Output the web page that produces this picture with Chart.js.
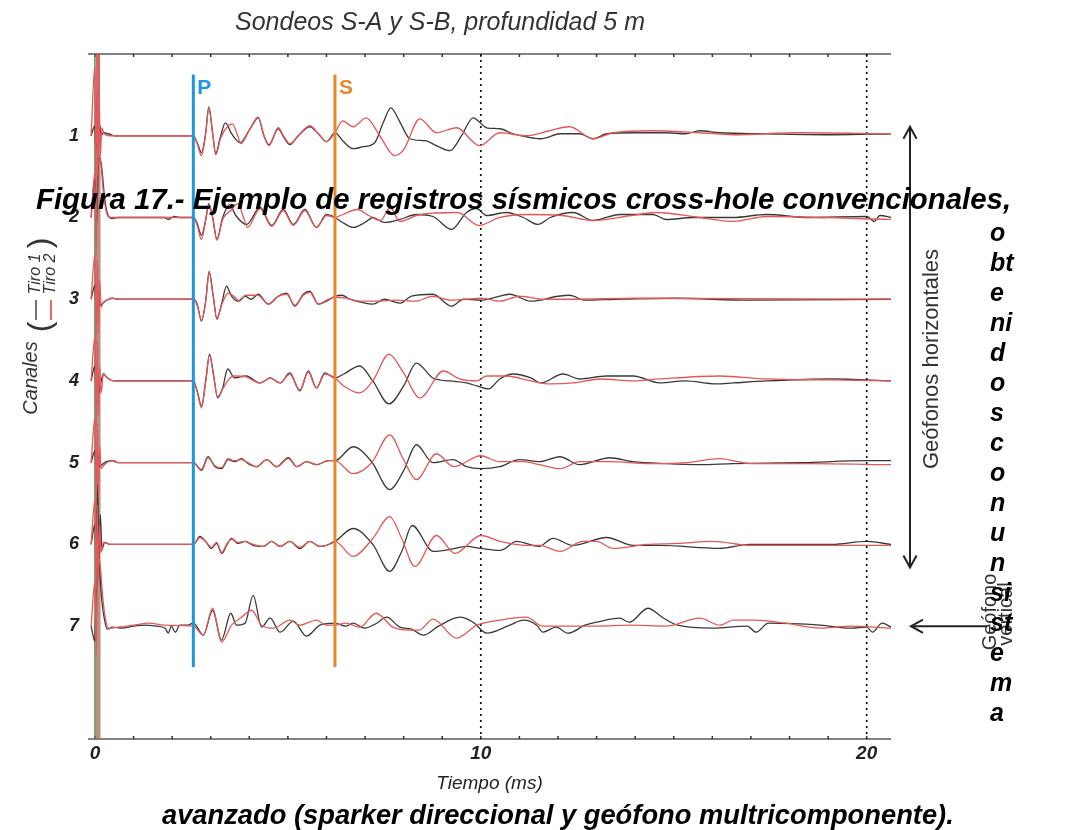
<!DOCTYPE html>
<html><head><meta charset="utf-8">
<script src="https://cdn.jsdelivr.net/npm/chart.js@4.4.1/dist/chart.umd.min.js"></script>
<style>html,body{margin:0;padding:0;background:#fff;}canvas{display:block;}</style>
</head><body>
<canvas id="c" width="1072" height="830"></canvas>
<script>
// ---------------- DATA ----------------
// Channels (geophones) and time axis labels
const channels = [1, 2, 3, 4, 5, 6, 7];
const xTickLabels = [0, 10, 20];
const gridTimes = [10, 20];
const pArrival = 2.55;   // ms
const sArrival = 6.22;   // ms
const arrivalSpan = [0.25, 7.5]; // channel range covered by arrival markers
const triggerTime = 0.0;
const triggerPulseTime = 0.08;
const channelRange = [0, 8.38];

// Traces: [time (ms), amplitude (arbitrary units)]  -- Tiro 1 (black)
const tiro1_c1 = [[-0.1,0],[0,10],[0.02,-15],[0.06,12],[0.1,-8],[0.12,12],[0.16,0],[0.22,3],[0.35,2],[0.5,0],[2.55,0],[2.65,-7],[2.76,-17],[2.87,3],[2.95,29],[3.05,3],[3.13,-18],[3.24,-3],[3.38,13],[3.54,2],[3.76,-7],[4.02,7],[4.23,18],[4.38,0],[4.51,-9],[4.75,7],[4.9,-2],[5.05,-9],[5.27,0],[5.57,9],[5.79,2],[6.0,-6],[6.22,3],[6.42,-5],[6.69,-13],[6.95,-11],[7.25,-7],[7.47,13],[7.67,28],[7.9,14],[8.16,-3],[8.55,-5],[8.9,-11],[9.2,-15],[9.5,0],[9.8,18],[10.15,8],[10.49,7],[10.84,2],[11.18,-1],[11.53,-3],[11.7,-2],[12.05,2],[12.56,2],[12.91,-3],[13.26,2],[13.95,3],[14.81,3],[15.3,2],[15.67,5],[16.19,3],[17.4,2],[19.13,1],[20.64,2]];
const tiro1_c2 = [[-0.1,0],[0,40],[0.04,-10],[0.08,45],[0.12,60],[0.17,52],[0.25,20],[0.33,3],[0.45,-1],[0.6,0],[1.8,0],[1.9,-2],[2.05,1],[2.2,0],[2.55,0],[2.65,-6],[2.76,-18],[2.87,-2],[2.95,14],[3.05,0],[3.16,-22],[3.31,0],[3.49,13],[3.65,2],[3.93,-7],[4.28,10],[4.58,-8],[4.88,8],[5.14,-7],[5.44,8],[5.74,-10],[6.0,3],[6.22,0],[6.42,-5],[6.69,-10],[7.0,-5],[7.2,0],[7.5,-5],[7.9,-2],[8.33,3],[8.76,1],[9.24,-12],[9.63,5],[9.89,9],[10.15,2],[10.66,5],[11.1,0],[11.48,-7],[11.8,0],[12.39,5],[12.91,-3],[13.6,3],[14.46,3],[14.81,-2],[15.5,0],[16.54,0],[17.4,3],[18.5,0],[20.0,1],[20.2,-4],[20.34,2],[20.64,0]];
const tiro1_c3 = [[-0.1,0],[0,14],[0.03,-12],[0.07,10],[0.12,-6],[0.2,-4],[0.3,-1],[0.45,1],[0.6,0],[2.55,0],[2.65,-5],[2.76,-22],[2.87,-2],[2.96,28],[3.06,5],[3.16,-20],[3.28,-5],[3.41,13],[3.54,3],[3.71,-2],[3.89,3],[4.05,0],[4.23,5],[4.49,-5],[4.75,3],[4.97,6],[5.18,-7],[5.4,5],[5.57,8],[5.79,-5],[6.0,-2],[6.22,3],[6.4,4],[6.6,0],[6.9,-3],[7.2,-5],[7.5,0],[7.9,-4],[8.2,3],[8.76,5],[9.24,-7],[9.55,0],[10.0,-1],[10.49,3],[10.75,5],[11.3,-2],[12.0,3],[12.3,4],[12.7,-1],[13.5,0],[15,1],[17,-1],[20.64,0]];
const tiro1_c4 = [[-0.1,0],[0,15],[0.03,-13],[0.06,8],[0.1,-13],[0.15,-2],[0.22,7],[0.32,3],[0.5,0],[2.55,0],[2.65,-10],[2.76,-25],[2.87,0],[2.97,27],[3.07,7],[3.18,-17],[3.31,-7],[3.44,12],[3.62,3],[3.92,5],[4.28,-2],[4.54,3],[4.8,-2],[5.05,8],[5.31,-10],[5.53,10],[5.74,-7],[5.96,8],[6.22,3],[6.45,7],[6.86,15],[7.2,0],[7.62,-23],[8.0,-5],[8.33,18],[8.76,3],[9.2,0],[9.63,-2],[9.9,-5],[10.2,-8],[10.49,2],[10.84,7],[11.3,3],[11.55,-2],[12.13,7],[12.56,2],[13.26,5],[13.95,5],[14.63,-2],[15.3,0],[16.1,-3],[16.54,-2],[17.4,0],[19.1,2],[20.64,0]];
const tiro1_c5 = [[-0.1,0],[0,12],[0.03,-10],[0.07,8],[0.11,-4],[0.18,-2],[0.3,1],[0.45,2],[0.6,0],[2.55,0],[2.76,-7],[2.93,6],[3.11,-4],[3.28,-6],[3.45,3],[3.62,1],[3.8,4],[3.97,-1],[4.19,-4],[4.45,3],[4.71,-4],[5.01,5],[5.23,-4],[5.48,1],[5.74,-2],[6.05,2],[6.22,2],[6.69,16],[7.17,1],[7.64,-27],[8.0,-8],[8.33,18],[8.76,0],[9.28,3],[9.63,-4],[10.0,-6],[10.49,-4],[11.0,3],[11.53,1],[12.05,6],[12.56,-2],[13.34,5],[13.95,1],[14.81,-1],[15.67,-2],[16.54,-1],[18.3,0],[20.0,2],[20.64,2]];
const tiro1_c6 = [[-0.1,0],[0,20],[0.03,-20],[0.07,60],[0.1,-24],[0.14,30],[0.18,-5],[0.25,2],[0.4,0],[2.55,0],[2.72,8],[2.87,3],[3.02,-4],[3.15,1],[3.29,-9],[3.41,-1],[3.54,6],[3.71,1],[3.89,3],[4.1,-1],[4.36,-2],[4.58,3],[4.8,-2],[5.05,3],[5.31,-4],[5.57,3],[5.83,-2],[6.0,-1],[6.22,3],[6.69,16],[7.2,0],[7.64,-27],[7.95,-7],[8.22,19],[8.77,-7],[9.2,-5],[9.63,-2],[10.0,-4],[10.5,-6],[10.93,3],[11.5,-2],[11.87,6],[12.39,-1],[13.26,7],[13.95,-1],[14.63,-1],[16.19,-4],[16.97,0],[19.1,0],[20.0,3],[20.64,0]];
const tiro1_c7 = [[-0.1,0],[0,-15],[0.02,15],[0.06,50],[0.1,70],[0.14,45],[0.18,25],[0.24,8],[0.32,-3],[0.45,-1],[0.7,-2],[1.0,0],[1.3,1],[1.6,0],[1.82,-2],[1.9,-7],[1.98,0],[2.08,-6],[2.2,1],[2.4,1],[2.55,3],[2.81,-9],[3.05,16],[3.28,-14],[3.52,13],[3.67,1],[3.89,3],[4.1,31],[4.32,-1],[4.54,8],[4.8,-6],[5.14,5],[5.48,-10],[5.83,1],[6.22,3],[6.5,0],[6.69,3],[6.99,-2],[7.3,3],[7.56,9],[7.9,-1],[8.2,-3],[8.51,-9],[8.9,0],[9.46,9],[9.8,4],[10.15,-7],[10.75,1],[11.1,6],[11.45,1],[11.61,-6],[11.95,-1],[12.26,-7],[12.7,1],[13.0,4],[13.6,8],[13.85,4],[14.33,18],[14.7,9],[15.1,1],[16.0,-2],[16.9,0],[17.14,-6],[17.45,3],[18.8,1],[19.6,-2],[20.0,-1],[20.15,-6],[20.4,3],[20.64,-1]];

// Tiro 2 (red)
const tiro2_c1 = [[-0.1,0],[0,70],[0.02,-45],[0.05,45],[0.08,-40],[0.11,35],[0.14,-20],[0.18,8],[0.24,2],[0.4,0],[2.55,0],[2.65,-8],[2.76,-20],[2.87,2],[2.95,28],[3.05,2],[3.13,-19],[3.26,-2],[3.45,10],[3.56,12],[3.7,0],[3.78,-8],[4.02,7],[4.23,19],[4.38,0],[4.51,-10],[4.75,8],[4.9,-1],[5.05,-8],[5.27,0],[5.57,10],[5.79,2],[6.0,-6],[6.22,3],[6.42,15],[6.69,9],[7.03,18],[7.38,0],[7.77,-20],[8.0,-14],[8.42,17],[8.85,3],[9.37,8],[9.97,-10],[10.49,3],[11.18,0],[11.78,5],[12.3,9],[12.91,-3],[13.43,3],[14.38,5],[15.67,3],[16.54,1],[18.26,3],[20.64,2]];
const tiro2_c2 = [[-0.1,0],[0,45],[0.03,-40],[0.06,50],[0.1,63],[0.15,55],[0.22,25],[0.3,5],[0.4,0],[2.55,0],[2.65,-8],[2.76,-22],[2.87,-3],[2.95,12],[3.05,0],[3.16,-23],[3.31,-2],[3.55,8],[3.7,14],[3.85,0],[3.95,-10],[4.28,9],[4.58,-9],[4.88,7],[5.14,-8],[5.44,7],[5.74,-10],[6.0,2],[6.22,0],[6.42,3],[6.8,8],[7.1,2],[7.4,-3],[7.65,10],[7.9,-4],[8.42,3],[9.4,5],[9.95,-8],[10.49,0],[11.18,3],[12.1,2],[12.91,-3],[13.9,2],[14.55,5],[15.67,0],[16.54,-4],[17.4,1],[20.64,-2]];
const tiro2_c3 = [[-0.1,0],[0,45],[0.03,-45],[0.06,40],[0.09,-35],[0.12,20],[0.16,-8],[0.22,-3],[0.3,-1],[0.45,1],[0.6,0],[2.55,0],[2.65,-6],[2.76,-21],[2.87,-2],[2.96,27],[3.06,4],[3.16,-19],[3.28,-6],[3.45,6],[3.6,3],[3.75,-2],[3.9,4],[4.23,4],[4.49,-5],[4.75,3],[4.97,5],[5.18,-6],[5.4,4],[5.57,7],[5.79,-5],[6.0,-1],[6.22,2],[6.5,1],[6.9,-2],[7.3,-2],[7.8,-1],[8.3,-2],[8.76,3],[9.2,-1],[9.6,0],[10.0,1],[10.5,-2],[11.0,3],[11.6,0],[12.3,0],[14,1],[20.64,0]];
const tiro2_c4 = [[-0.1,0],[0,45],[0.03,-45],[0.06,40],[0.09,-35],[0.12,15],[0.16,-12],[0.22,7],[0.32,3],[0.5,0],[2.55,0],[2.65,-11],[2.76,-27],[2.87,-1],[2.97,26],[3.07,6],[3.18,-16],[3.31,-8],[3.5,3],[3.62,5],[3.92,4],[4.28,-2],[4.54,3],[4.8,-2],[5.05,7],[5.31,-9],[5.53,9],[5.74,-7],[5.96,7],[6.22,3],[6.45,-5],[6.86,-12],[7.2,0],[7.62,27],[8.0,8],[8.42,-17],[9.03,10],[9.45,2],[9.89,0],[10.15,5],[10.66,5],[11.3,0],[11.8,-3],[12.39,-2],[13.1,2],[13.95,0],[14.63,2],[16.19,5],[17.4,2],[19.1,1],[20.64,0]];
const tiro2_c5 = [[-0.1,0],[0,45],[0.03,-45],[0.06,40],[0.09,-35],[0.12,18],[0.16,-6],[0.22,-3],[0.35,1],[0.5,2],[0.6,0],[2.55,0],[2.76,-8],[2.93,5],[3.11,-3],[3.28,-5],[3.45,4],[3.62,2],[3.8,3],[3.97,0],[4.19,-4],[4.45,3],[4.71,-4],[5.01,4],[5.23,-4],[5.48,1],[5.74,-2],[6.05,2],[6.22,2],[6.69,-11],[7.17,0],[7.64,28],[8.0,3],[8.33,-17],[8.85,9],[9.3,-4],[10.0,7],[10.49,1],[11.1,1],[11.53,-2],[12.05,-6],[12.56,1],[13.34,1],[14.38,-1],[15.3,0],[16.19,4],[17.0,-1],[18.5,-1],[20.64,-2]];
const tiro2_c6 = [[-0.1,0],[0,45],[0.03,-45],[0.06,40],[0.09,-35],[0.12,20],[0.16,-8],[0.22,2],[0.4,0],[2.55,0],[2.72,7],[2.87,3],[3.02,-3],[3.15,2],[3.29,-8],[3.41,0],[3.54,5],[3.71,2],[3.89,3],[4.1,0],[4.36,-2],[4.58,3],[4.8,-2],[5.05,3],[5.31,-3],[5.57,3],[5.83,-2],[6.0,-1],[6.22,3],[6.69,-12],[7.2,6],[7.64,28],[7.95,6],[8.29,-22],[8.85,9],[9.33,-9],[10.0,9],[10.5,3],[11.18,-1],[11.53,-1],[12.05,-7],[12.65,3],[13.0,3],[13.43,-4],[14.3,0],[15.1,1],[16.0,3],[17.0,-1],[20.64,-1]];
const tiro2_c7 = [[-0.1,0],[0,45],[0.03,-30],[0.06,60],[0.1,70],[0.15,55],[0.2,30],[0.27,8],[0.35,-2],[0.6,-1],[1.0,1],[1.4,3],[1.8,1],[2.55,0],[2.81,-9],[3.05,18],[3.28,-16],[3.54,1],[3.8,9],[4.06,16],[4.32,1],[4.62,-2],[5.05,6],[5.31,1],[5.74,6],[6.0,1],[6.22,1],[6.5,3],[6.86,-1],[7.29,13],[7.72,-1],[8.16,-4],[8.4,-4],[8.76,7],[9.37,-12],[9.9,1],[10.49,6],[11.18,9],[11.61,0],[12.3,0],[13.0,0],[13.9,1],[14.81,0],[15.67,8],[16.2,1],[16.54,6],[17.1,6],[17.9,3],[18.8,-2],[19.6,0],[20.64,-2]];

const tiro1 = [tiro1_c1, tiro1_c2, tiro1_c3, tiro1_c4, tiro1_c5, tiro1_c6, tiro1_c7];
const tiro2 = [tiro2_c1, tiro2_c2, tiro2_c3, tiro2_c4, tiro2_c5, tiro2_c6, tiro2_c7];

// display gain: channel spacing per amplitude unit
const GAIN = 1 / 82;

// ---------------- BUILD ----------------
const FONT = '"Liberation Sans", Arial, Helvetica, sans-serif';
const BLUE = '#1e98dc', ORANGE = '#e8862c', RED = '#e4575a';

function toPts(trace, ch) { return trace.map(([t, a]) => ({ x: t, y: ch - a * GAIN })); }

const datasets = [];
datasets.push({ label: 'P', data: [{x:pArrival,y:arrivalSpan[0]},{x:pArrival,y:arrivalSpan[1]}], borderColor: BLUE, borderWidth: 3, order: 0 });
datasets.push({ label: 'S', data: [{x:sArrival,y:arrivalSpan[0]},{x:sArrival,y:arrivalSpan[1]}], borderColor: ORANGE, borderWidth: 3, order: 0 });
channels.forEach((ch, i) => {
  datasets.push({ label: 'Tiro 2 - canal ' + ch, data: toPts(tiro2[i], ch), borderColor: RED, borderWidth: 1.3, cubicInterpolationMode: 'monotone', order: 1 });
});
channels.forEach((ch, i) => {
  datasets.push({ label: 'Tiro 1 - canal ' + ch, data: toPts(tiro1[i], ch), borderColor: 'rgba(35,35,35,0.9)', borderWidth: 1.3, cubicInterpolationMode: 'monotone', order: 2 });
});
datasets.push({ label: 'pulso', data: [{x:triggerPulseTime,y:0.9},{x:triggerPulseTime,y:channelRange[1]}], borderColor: 'rgba(165,105,85,0.75)', borderWidth: 5, order: 3 });
datasets.push({ label: 'pulso2', data: [{x:triggerPulseTime,y:channelRange[0]},{x:triggerPulseTime,y:0.9}], borderColor: 'rgba(215,70,70,0.85)', borderWidth: 4, order: 3 });
datasets.push({ label: 'trigger', data: [{x:triggerTime,y:channelRange[0]},{x:triggerTime,y:channelRange[1]}], borderColor: 'rgba(60,140,70,0.9)', borderWidth: 1.5, order: 4 });

function rotText(ctx, txt, x, y, font, color) {
  ctx.save(); ctx.translate(x, y); ctx.rotate(-Math.PI / 2);
  ctx.font = font; ctx.fillStyle = color; ctx.textAlign = 'center'; ctx.textBaseline = 'middle';
  ctx.fillText(txt, 0, 0); ctx.restore();
}
function arrowHead(ctx, x, y, dx, dy, size) {
  const px = -dy, py = dx;
  ctx.beginPath();
  ctx.moveTo(x - dx * size + px * size * 0.55, y - dy * size + py * size * 0.55);
  ctx.lineTo(x, y);
  ctx.lineTo(x - dx * size - px * size * 0.55, y - dy * size - py * size * 0.55);
  ctx.stroke();
}

const decor = {
  id: 'decor',
  beforeDatasetsDraw(chart) {
    const { ctx, chartArea: a, scales: { x } } = chart;
    ctx.save();
    ctx.strokeStyle = '#5a5a5a'; ctx.lineWidth = 1.5;
    ctx.beginPath();
    ctx.moveTo(a.left, a.top); ctx.lineTo(a.right, a.top);
    ctx.moveTo(a.left, a.bottom); ctx.lineTo(a.right, a.bottom);
    ctx.stroke();
    ctx.strokeStyle = '#333'; ctx.lineWidth = 1.5;
    for (let t = 0; t <= 20; t++) {
      const px = x.getPixelForValue(t);
      ctx.beginPath();
      ctx.moveTo(px, a.top); ctx.lineTo(px, a.top + 3);
      ctx.moveTo(px, a.bottom); ctx.lineTo(px, a.bottom - 3);
      ctx.stroke();
    }
    ctx.setLineDash([2, 4]); ctx.strokeStyle = '#111'; ctx.lineWidth = 1.7;
    gridTimes.forEach(t => {
      const px = x.getPixelForValue(t);
      ctx.beginPath(); ctx.moveTo(px, a.top); ctx.lineTo(px, a.bottom); ctx.stroke();
    });
    ctx.restore();
  },
  afterDraw(chart) {
    const { ctx, scales: { x, y } } = chart;
    ctx.save();
    // P / S labels
    ctx.font = 'bold 21px ' + FONT; ctx.textBaseline = 'middle'; ctx.textAlign = 'left';
    ctx.fillStyle = BLUE; ctx.fillText('P', x.getPixelForValue(pArrival) + 4, y.getPixelForValue(arrivalSpan[0]) + 14);
    ctx.fillStyle = ORANGE; ctx.fillText('S', x.getPixelForValue(sArrival) + 4, y.getPixelForValue(arrivalSpan[0]) + 14);

    // Title
    ctx.font = 'italic 25px ' + FONT; ctx.fillStyle = '#333'; ctx.textAlign = 'center';
    ctx.fillText('Sondeos S-A y S-B, profundidad 5 m', 440, 23);

    // Left legend
    rotText(ctx, 'Canales', 31, 378, 'italic 20px ' + FONT, '#333');
    rotText(ctx, '(', 41, 327, '32px ' + FONT, '#333');
    rotText(ctx, ')', 41, 243, '32px ' + FONT, '#333');
    rotText(ctx, 'Tiro 1', 36, 274, 'italic 16px ' + FONT, '#333');
    rotText(ctx, 'Tiro 2', 51, 274, 'italic 16px ' + FONT, '#333');
    ctx.lineWidth = 1.5;
    ctx.strokeStyle = '#444'; ctx.beginPath(); ctx.moveTo(36, 320); ctx.lineTo(36, 300); ctx.stroke();
    ctx.strokeStyle = '#d33'; ctx.beginPath(); ctx.moveTo(51, 320); ctx.lineTo(51, 300); ctx.stroke();

    // Right annotations
    ctx.strokeStyle = '#222'; ctx.lineWidth = 2;
    const ax = 910, y1 = y.getPixelForValue(1) - 9, y6 = y.getPixelForValue(6) + 23;
    ctx.beginPath(); ctx.moveTo(ax, y1); ctx.lineTo(ax, y6); ctx.stroke();
    arrowHead(ctx, ax, y1, 0, -1, 12);
    arrowHead(ctx, ax, y6, 0, 1, 12);
    rotText(ctx, 'Geófonos horizontales', 932, 359, '22px ' + FONT, '#333');
    const y7 = y.getPixelForValue(7);
    ctx.beginPath(); ctx.moveTo(987, y7); ctx.lineTo(912, y7); ctx.stroke();
    arrowHead(ctx, 911, y7, -1, 0, 12);
    rotText(ctx, 'Geófono', 990, 612, '20px ' + FONT, '#333');
    rotText(ctx, 'vertical', 1006, 614, '20px ' + FONT, '#333');

    // Caption overlay
    ctx.fillStyle = '#000'; ctx.textAlign = 'left'; ctx.textBaseline = 'alphabetic';
    ctx.font = 'italic bold 29.4px ' + FONT;
    ctx.fillText('Figura 17.- Ejemplo de registros sísmicos cross-hole convencionales,', 36, 209);
    const col = ['o','bt','e','ni','d','o','s','c','o','n','u','n','si','st','e','m','a'];
    ctx.font = 'italic bold 25px ' + FONT;
    col.forEach((s, i) => ctx.fillText(s, 990, 241 + i * 30));
    ctx.font = 'italic bold 27.3px ' + FONT;
    ctx.fillText('avanzado (sparker direccional y geófono multricomponente).', 162, 824);
    ctx.restore();
  }
};

new Chart(document.getElementById('c'), {
  type: 'line',
  data: { datasets },
  options: {
    responsive: false, animation: false, devicePixelRatio: 1,
    parsing: false, normalized: true,
    elements: { point: { radius: 0 }, line: { fill: false, tension: 0 } },
    layout: { padding: { left: 0, right: 181, top: 54, bottom: 31 } },
    plugins: { legend: { display: false }, tooltip: { enabled: false }, title: { display: false } },
    scales: {
      x: {
        type: 'linear', min: -0.18, max: 20.63,
        afterBuildTicks: s => { s.ticks = xTickLabels.map(v => ({ value: v })); },
        afterFit: s => { s.height = 60; },
        grid: { display: false, drawTicks: false },
        border: { display: false },
        ticks: { padding: 3, color: '#222', font: { family: FONT, size: 19, style: 'italic', weight: 'bold' }, maxRotation: 0, callback: v => String(v) },
        title: { display: true, text: 'Tiempo (ms)', color: '#222', font: { family: FONT, size: 19, style: 'italic' }, padding: { top: 0, bottom: 4 } }
      },
      y: {
        type: 'linear', reverse: true, min: channelRange[0], max: channelRange[1],
        afterBuildTicks: s => { s.ticks = channels.map(v => ({ value: v })); },
        afterFit: s => { s.width = 88; },
        grid: { display: false, drawTicks: false },
        border: { display: false },
        ticks: { padding: 9, color: '#222', font: { family: FONT, size: 18, style: 'italic', weight: 'bold' }, callback: v => String(v) }
      }
    }
  },
  plugins: [decor]
});
</script>
</body></html>
